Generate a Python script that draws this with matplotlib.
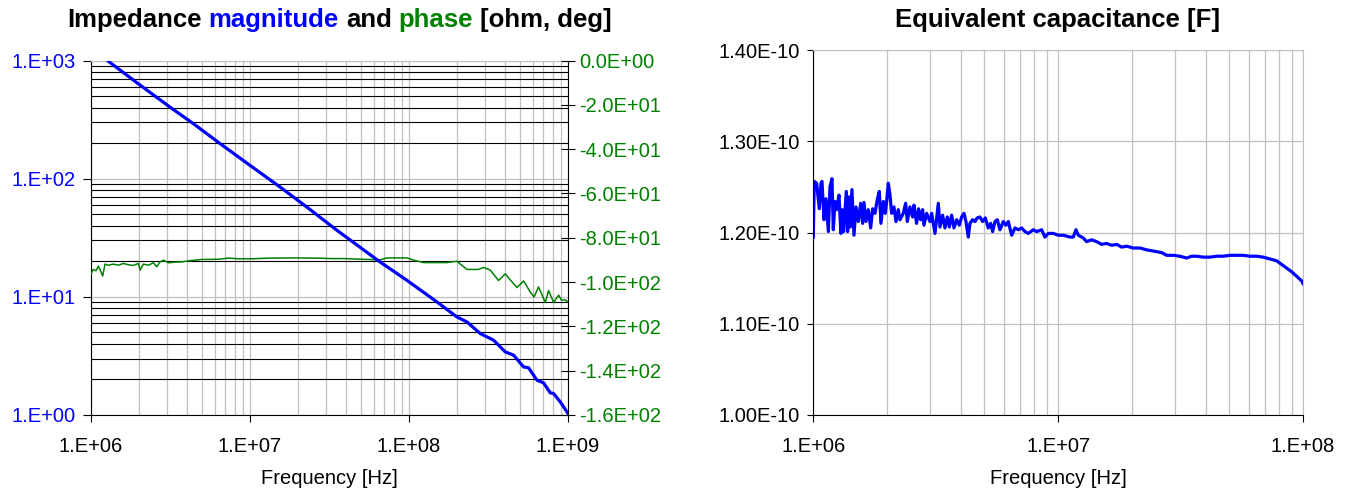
import matplotlib
matplotlib.use("Agg")
import matplotlib.pyplot as plt
from matplotlib.ticker import FixedLocator, FixedFormatter, LogLocator, NullFormatter

plt.rcParams['font.family'] = ['Liberation Sans', 'DejaVu Sans']

# ---------------- data ----------------
# Impedance magnitude (left panel)
mag_freq_mhz = [1.285, 1.985, 3.142, 4.404, 6.484, 10.01, 15.47, 22.78, 35.18, 65.87,
                97.0, 149.8, 200.2, 231.4, 280.6, 340.2, 403.0, 454.7, 525.6, 564.9,
                638.1, 702.2, 773.7, 811.7, 894.5, 1000.0]
mag_ohm = [986, 635, 403, 292, 198, 129.5, 84.9, 57.5, 36.6, 19.7,
           13.8, 9.06, 6.76, 6.13, 4.89, 4.30, 3.42, 3.21, 2.55, 2.51,
           1.97, 1.87, 1.54, 1.52, 1.29, 1.03]

# Impedance phase (left panel, right axis)
phase_freq_mhz = [1.000, 1.034, 1.075, 1.112, 1.156, 1.184, 1.225, 1.285, 1.382, 1.486,
                  1.597, 1.718, 1.847, 1.986, 2.035, 2.135, 2.295, 2.468, 2.591, 2.718,
                  2.853, 3.067, 3.379, 3.722, 4.098, 4.513, 4.971, 6.328, 7.314, 8.455,
                  10.26, 13.07, 18.32, 26.96, 32.70, 38.7, 65.87, 72.6, 97.0, 106.7,
                  123.4, 173.6, 200.0, 231.4, 273.8, 294.4, 324.3, 365.8, 403.0, 434.6,
                  477.8, 525.6, 579.0, 612.0, 653.0, 719.6, 755.0, 811.7, 873.0, 910.0,
                  961.6, 1000.0]
phase_deg = [-96.4, -94.3, -94.9, -92.8, -95.4, -97.3, -91.9, -92.4, -91.9, -92.4,
             -91.6, -92.2, -92.5, -91.6, -94.6, -91.9, -92.4, -91.3, -93.1, -90.9,
             -90.1, -91.3, -91.0, -90.9, -90.4, -90.1, -89.8, -89.7, -89.2, -89.5,
             -89.5, -89.2, -89.1, -89.2, -89.4, -89.4, -90.0, -89.1, -89.1, -90.1,
             -91.2, -91.2, -90.6, -94.3, -94.3, -93.4, -94.6, -99.3, -96.3, -99.1,
             -102.5, -99.5, -104.5, -106.7, -102.2, -109.2, -103.8, -109.2, -105.9, -108.2,
             -108.0, -109.1]

# Equivalent capacitance (right panel)
cap_freq_mhz = [1.000, 1.009, 1.032, 1.058, 1.075, 1.085, 1.106, 1.127, 1.152, 1.170,
                1.192, 1.207, 1.226, 1.245, 1.273, 1.297, 1.313, 1.330, 1.364, 1.381,
                1.398, 1.416, 1.438, 1.466, 1.494, 1.527, 1.561, 1.590, 1.610, 1.641,
                1.677, 1.715, 1.747, 1.786, 1.825, 1.860, 1.889, 1.932, 1.968, 1.993,
                2.024, 2.057, 2.089, 2.135, 2.176, 2.224, 2.259, 2.331, 2.383, 2.421,
                2.481, 2.545, 2.577, 2.642, 2.692, 2.744, 2.796, 2.831, 2.903, 2.996,
                3.043, 3.140, 3.240, 3.291, 3.375, 3.449, 3.526, 3.593, 3.673, 3.754,
                3.850, 3.948, 4.035, 4.125, 4.202, 4.295, 4.363, 4.473, 4.573, 4.673,
                4.792, 4.914, 5.039, 5.183, 5.301, 5.401, 5.520, 5.643, 5.783, 5.970,
                6.122, 6.257, 6.457, 6.663, 6.875, 7.094, 7.320, 7.553, 7.914, 8.167,
                8.561, 8.834, 9.116, 9.555, 10.01, 10.50, 11.17, 11.53, 11.82, 12.09,
                12.67, 13.07, 13.70, 14.36, 15.05, 15.78, 16.54, 17.33, 18.17, 19.05,
                20.27, 21.59, 22.98, 24.09, 25.25, 26.46, 27.74, 29.54, 31.44, 33.48,
                35.09, 36.78, 39.15, 41.69, 44.40, 47.27, 50.32, 53.58, 57.05, 60.73,
                64.66, 68.85, 73.30, 78.04, 81.79, 85.74, 89.86, 94.19, 98.72, 100.0]
cap_pf = [119.5, 125.6, 125.4, 122.6, 125.4, 125.6, 121.4, 123.7, 120.1, 125.0,
          125.9, 120.3, 123.4, 122.5, 124.1, 119.9, 122.5, 120.1, 124.5, 120.1,
          123.9, 120.6, 124.7, 119.7, 122.8, 121.2, 123.2, 121.0, 123.3, 121.2,
          122.5, 120.5, 122.6, 122.1, 123.6, 124.5, 121.0, 123.4, 122.1, 123.4,
          125.4, 124.1, 122.1, 122.8, 121.2, 122.5, 121.4, 122.1, 123.2, 121.2,
          122.8, 121.7, 123.0, 121.0, 122.6, 121.4, 122.5, 120.8, 122.1, 121.2,
          122.1, 119.9, 123.2, 120.6, 121.9, 120.5, 121.7, 120.6, 121.9, 120.5,
          121.4, 120.8, 121.7, 122.1, 121.2, 119.5, 121.0, 121.4, 121.2, 121.6,
          121.7, 121.2, 121.6, 120.5, 121.0, 120.1, 121.2, 121.4, 120.3, 121.2,
          120.8, 121.2, 119.7, 120.5, 120.3, 120.5, 120.1, 119.9, 120.3, 120.1,
          120.3, 119.5, 119.9, 119.9, 119.7, 119.7, 119.5, 119.5, 120.3, 119.7,
          119.4, 119.0, 119.2, 119.0, 118.7, 118.8, 118.6, 118.7, 118.4, 118.5,
          118.3, 118.3, 118.1, 118.0, 117.9, 117.8, 117.5, 117.5, 117.4, 117.2,
          117.4, 117.4, 117.3, 117.3, 117.4, 117.4, 117.5, 117.5, 117.5, 117.4,
          117.4, 117.3, 117.1, 116.9, 116.5, 116.1, 115.7, 115.2, 114.7, 114.4]

mag_yticks = [1, 10, 100, 1000]
mag_yticklabels = ["1.E+00", "1.E+01", "1.E+02", "1.E+03"]
left_xticks = [1e6, 1e7, 1e8, 1e9]
left_xticklabels = ["1.E+06", "1.E+07", "1.E+08", "1.E+09"]
phase_yticks = [0, -20, -40, -60, -80, -100, -120, -140, -160]
right_xticks = [1e6, 1e7, 1e8]
right_xticklabels = ["1.E+06", "1.E+07", "1.E+08"]
cap_yticks = [1.0e-10, 1.1e-10, 1.2e-10, 1.3e-10, 1.4e-10]

# ---------------- styling ----------------
BLUE = '#0000FF'
GREEN = '#008000'
GRID = '#c0c0c0'
TICK_FS = 14.5
TITLE_FS = 18.5

W, H = 1350, 493
fig = plt.figure(figsize=(W / 100, H / 100), dpi=100)


def frac(x0, y0, x1, y1):
    return [x0 / W, 1 - y1 / H, (x1 - x0) / W, (y1 - y0) / H]


# ---------- left panel ----------
ax = fig.add_axes(frac(91, 60.5, 568, 415))
ax.set_xscale('log')
ax.set_yscale('log')
ax.set_xlim(1e6, 1e9)
ax.set_ylim(1, 1000)
ax.xaxis.set_major_locator(FixedLocator(left_xticks))
ax.xaxis.set_major_formatter(FixedFormatter(left_xticklabels))
ax.xaxis.set_minor_locator(LogLocator(base=10, subs=range(2, 10), numticks=20))
ax.xaxis.set_minor_formatter(NullFormatter())
ax.yaxis.set_major_locator(FixedLocator(mag_yticks))
ax.yaxis.set_major_formatter(FixedFormatter(mag_yticklabels))
ax.yaxis.set_minor_locator(LogLocator(base=10, subs=range(2, 10), numticks=20))
ax.yaxis.set_minor_formatter(NullFormatter())
ax.grid(True, which='both', axis='x', color=GRID, lw=0.9)
ax.grid(True, which='major', axis='y', color=GRID, lw=0.9)
ax.grid(True, which='minor', axis='y', color='black', lw=0.8)
ax.tick_params(axis='x', which='major', direction='out', length=5, width=0.8,
               labelsize=TICK_FS, pad=11, top=False)
ax.tick_params(axis='y', which='major', direction='out', length=5.5, width=0.8,
               labelsize=TICK_FS, pad=5.5, labelcolor=BLUE, right=False)
ax.tick_params(which='minor', length=0)
ax.spines['top'].set_color(GRID)
ax.spines['right'].set_visible(False)
ax.set_xlabel("Frequency [Hz]", fontsize=TICK_FS, labelpad=9)

ax2 = ax.twinx()
ax2.set_ylim(-160, 0)
ax2.yaxis.set_major_locator(FixedLocator(phase_yticks))
ax2.yaxis.set_major_formatter(FixedFormatter([f"{v:.1E}" for v in phase_yticks]))
ax2.tick_params(axis='y', direction='inout', length=9.5, width=0.8,
                labelsize=TICK_FS, pad=3.5, labelcolor=GREEN)
for s in ['top', 'left', 'bottom']:
    ax2.spines[s].set_visible(False)
ax2.plot([f * 1e6 for f in phase_freq_mhz], phase_deg, color=GREEN, lw=1.1)

ax3 = ax.twinx()
ax3.set_yscale('log')
ax3.set_ylim(1, 1000)
ax3.axis('off')
ax3.plot([f * 1e6 for f in mag_freq_mhz], mag_ohm, color=BLUE, lw=2.3)
ax3.set_xlim(1e6, 1e9)

# ---------- right panel ----------
axr = fig.add_axes(frac(813.3, 50, 1303, 415))
axr.set_xscale('log')
axr.set_xlim(1e6, 1e8)
axr.set_ylim(1.0e-10, 1.4e-10)
axr.xaxis.set_major_locator(FixedLocator(right_xticks))
axr.xaxis.set_major_formatter(FixedFormatter(right_xticklabels))
axr.xaxis.set_minor_locator(LogLocator(base=10, subs=range(2, 10), numticks=20))
axr.xaxis.set_minor_formatter(NullFormatter())
axr.yaxis.set_major_locator(FixedLocator(cap_yticks))
axr.yaxis.set_major_formatter(FixedFormatter([f"{v:.2E}" for v in cap_yticks]))
axr.grid(True, which='both', axis='x', color=GRID, lw=0.9)
axr.grid(True, which='major', axis='y', color=GRID, lw=0.9)
axr.tick_params(axis='x', which='major', direction='out', length=5, width=0.8,
                labelsize=TICK_FS, pad=11)
axr.tick_params(axis='y', which='major', direction='out', length=4.5, width=0.8,
                labelsize=TICK_FS, pad=5.5)
axr.tick_params(which='minor', length=0)
axr.spines['top'].set_color(GRID)
axr.spines['right'].set_color(GRID)
axr.set_xlabel("Frequency [Hz]", fontsize=TICK_FS, labelpad=9)
axr.plot([f * 1e6 for f in cap_freq_mhz], [c * 1e-12 for c in cap_pf], color=BLUE, lw=2.3)

# ---------- titles ----------
renderer = fig.canvas.get_renderer()
title_base_y = 1 - 26.7 / H


def multicolor_title(pieces, cx_px):
    texts = []
    for s, c in pieces:
        t = fig.text(0, title_base_y, s, color=c, fontsize=TITLE_FS,
                     fontweight='bold', ha='left', va='baseline')
        texts.append(t)
    widths = [t.get_window_extent(renderer).width for t in texts]
    probe = fig.text(0, 0, "a a", fontsize=TITLE_FS, fontweight='bold')
    probe2 = fig.text(0, 0, "aa", fontsize=TITLE_FS, fontweight='bold')
    sp = probe.get_window_extent(renderer).width - probe2.get_window_extent(renderer).width
    probe.remove()
    probe2.remove()
    total = sum(widths) + sp * (len(texts) - 1)
    x = cx_px - total / 2
    for t, w in zip(texts, widths):
        t.set_x(x / W)
        x += w + sp


multicolor_title([("Impedance", 'black'), ("magnitude", BLUE), ("and", 'black'),
                  ("phase", GREEN), ("[ohm, deg]", 'black')], 339.5)
multicolor_title([("Equivalent capacitance [F]", 'black')], 1058)

fig.savefig("out.png", dpi=100)
